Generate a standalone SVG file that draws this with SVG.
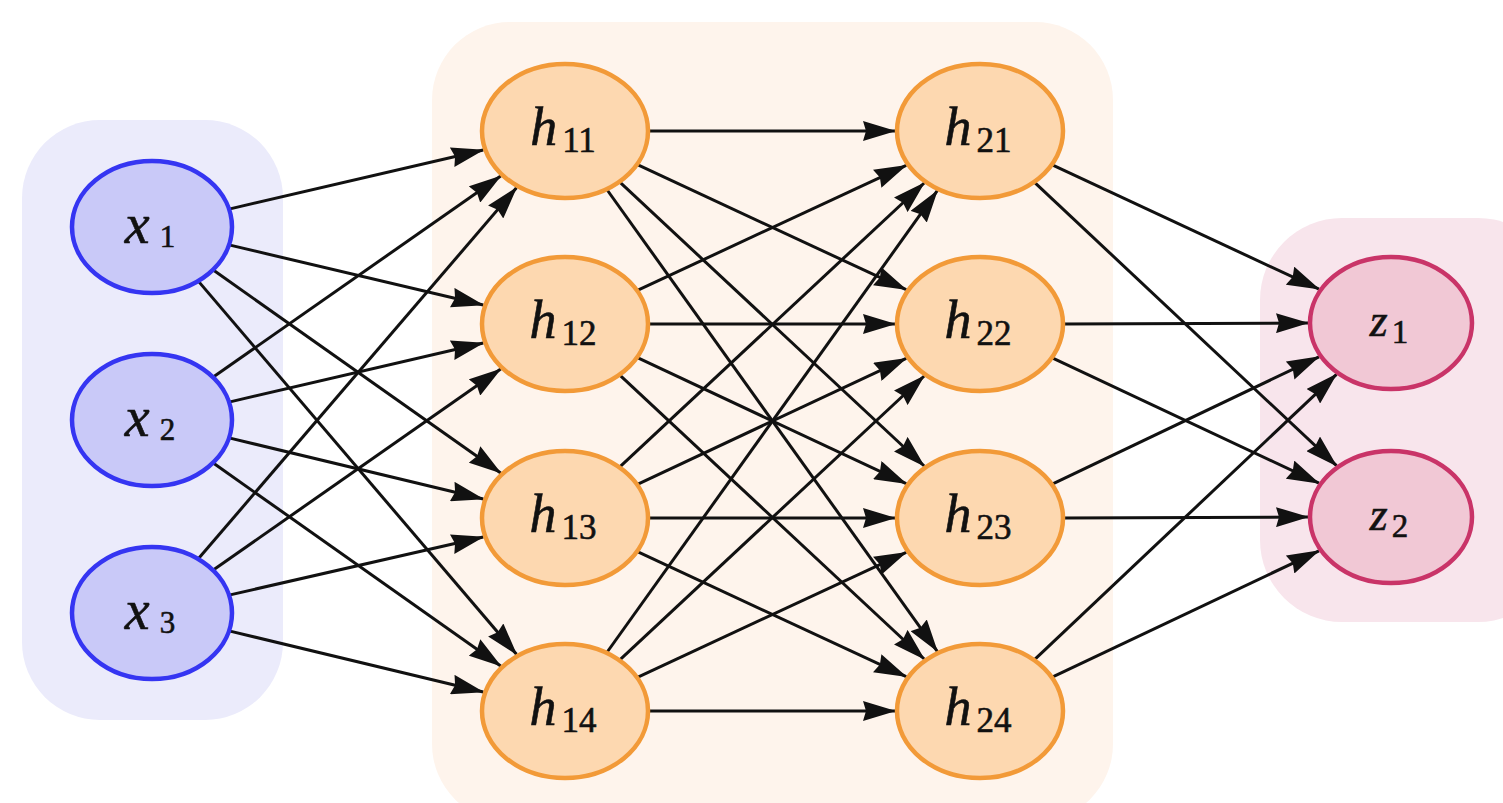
<svg xmlns="http://www.w3.org/2000/svg" width="1503" height="803" viewBox="0 0 1503 803">
<style>
.bg{stroke:none}
.xn{fill:#c9c9f8;stroke:#3535f2;stroke-width:4.5}
.hn{fill:#fdd8b0;stroke:#f29a38;stroke-width:4.5}
.zn{fill:#f1c8d5;stroke:#c93468;stroke-width:4.5}
.edge{stroke:#111;stroke-width:3;fill:none;marker-end:url(#arr)}
.lbl{fill:#111;text-anchor:middle;stroke:#111;stroke-width:0.6}
.v{font-style:italic}
</style>
<defs>
<marker id="arr" markerUnits="userSpaceOnUse" markerWidth="33" markerHeight="20" refX="32" refY="10" orient="auto">
<path d="M0,0 L33,10 L0,20 L3,10 z" fill="#111"/>
</marker>
</defs>
<g id="backgrounds">
<rect class="bg" x="22" y="120" width="261" height="600" rx="78" fill="#ebebfb"/>
<rect class="bg" x="432" y="22" width="681" height="800" rx="78" fill="#fef4ec"/>
<rect class="bg" x="1260" y="218" width="300" height="404" rx="82" fill="#f8e5ec"/>
</g>
<g id="connectors">
<line class="edge" x1="229.0" y1="209.1" x2="483.3" y2="150.0"/>
<line class="edge" x1="229.0" y1="244.9" x2="483.3" y2="305.0"/>
<line class="edge" x1="212.9" y1="269.8" x2="500.7" y2="472.9"/>
<line class="edge" x1="198.1" y1="280.9" x2="516.5" y2="654.3"/>
<line class="edge" x1="212.9" y1="377.2" x2="500.7" y2="176.1"/>
<line class="edge" x1="229.0" y1="402.1" x2="483.3" y2="343.0"/>
<line class="edge" x1="229.0" y1="437.9" x2="483.3" y2="499.0"/>
<line class="edge" x1="212.9" y1="462.8" x2="500.7" y2="665.9"/>
<line class="edge" x1="198.1" y1="559.1" x2="516.5" y2="187.7"/>
<line class="edge" x1="212.9" y1="570.2" x2="500.7" y2="369.1"/>
<line class="edge" x1="229.0" y1="595.1" x2="483.3" y2="537.0"/>
<line class="edge" x1="229.0" y1="630.9" x2="483.3" y2="692.0"/>
<line class="edge" x1="648" y1="131" x2="895" y2="131"/>
<line class="edge" x1="636.9" y1="164.4" x2="906.2" y2="289.7"/>
<line class="edge" x1="619.3" y1="181.7" x2="924.2" y2="466.0"/>
<line class="edge" x1="606.5" y1="189.0" x2="937.3" y2="651.3"/>
<line class="edge" x1="636.9" y1="290.6" x2="906.2" y2="165.3"/>
<line class="edge" x1="648" y1="324" x2="895" y2="324"/>
<line class="edge" x1="636.9" y1="357.4" x2="906.2" y2="483.7"/>
<line class="edge" x1="619.3" y1="374.7" x2="924.2" y2="659.0"/>
<line class="edge" x1="619.3" y1="467.3" x2="924.2" y2="183.0"/>
<line class="edge" x1="636.9" y1="484.6" x2="906.2" y2="358.3"/>
<line class="edge" x1="648" y1="518" x2="895" y2="518"/>
<line class="edge" x1="636.9" y1="551.4" x2="906.2" y2="676.7"/>
<line class="edge" x1="606.5" y1="653.0" x2="937.3" y2="190.7"/>
<line class="edge" x1="619.3" y1="660.3" x2="924.2" y2="376.0"/>
<line class="edge" x1="636.9" y1="677.6" x2="906.2" y2="552.3"/>
<line class="edge" x1="648" y1="711" x2="895" y2="711"/>
<line class="edge" x1="1051.7" y1="164.7" x2="1319.0" y2="289.2"/>
<line class="edge" x1="1034.0" y1="181.9" x2="1336.5" y2="465.7"/>
<line class="edge" x1="1063" y1="324" x2="1308" y2="323"/>
<line class="edge" x1="1051.7" y1="357.7" x2="1319.0" y2="483.2"/>
<line class="edge" x1="1051.7" y1="484.3" x2="1319.0" y2="356.8"/>
<line class="edge" x1="1063" y1="518" x2="1308" y2="517"/>
<line class="edge" x1="1034.0" y1="660.1" x2="1336.5" y2="374.3"/>
<line class="edge" x1="1051.7" y1="677.3" x2="1319.0" y2="550.8"/>
</g>
<g id="x1"><ellipse class="xn" cx="152" cy="227" rx="80" ry="66"/><text class="lbl" font-family="'Liberation Serif', 'DejaVu Serif', serif" x="150" y="243" font-size="56"><tspan class="v">x</tspan><tspan font-size="31" dx="10" dy="4">1</tspan></text></g>
<g id="x2"><ellipse class="xn" cx="152" cy="420" rx="80" ry="66"/><text class="lbl" font-family="'Liberation Serif', 'DejaVu Serif', serif" x="150" y="436" font-size="56"><tspan class="v">x</tspan><tspan font-size="31" dx="10" dy="4">2</tspan></text></g>
<g id="x3"><ellipse class="xn" cx="152" cy="613" rx="80" ry="66"/><text class="lbl" font-family="'Liberation Serif', 'DejaVu Serif', serif" x="150" y="629" font-size="56"><tspan class="v">x</tspan><tspan font-size="31" dx="10" dy="4">3</tspan></text></g>
<g id="h11"><ellipse class="hn" cx="565" cy="131" rx="83" ry="67"/><text class="lbl" font-family="'Liberation Serif', 'DejaVu Serif', serif" x="563" y="145" font-size="54"><tspan class="v">h</tspan><tspan font-size="35" dx="5" dy="7">11</tspan></text></g>
<g id="h12"><ellipse class="hn" cx="565" cy="324" rx="83" ry="67"/><text class="lbl" font-family="'Liberation Serif', 'DejaVu Serif', serif" x="563" y="338" font-size="54"><tspan class="v">h</tspan><tspan font-size="35" dx="5" dy="7">12</tspan></text></g>
<g id="h13"><ellipse class="hn" cx="565" cy="518" rx="83" ry="67"/><text class="lbl" font-family="'Liberation Serif', 'DejaVu Serif', serif" x="563" y="532" font-size="54"><tspan class="v">h</tspan><tspan font-size="35" dx="5" dy="7">13</tspan></text></g>
<g id="h14"><ellipse class="hn" cx="565" cy="711" rx="83" ry="67"/><text class="lbl" font-family="'Liberation Serif', 'DejaVu Serif', serif" x="563" y="725" font-size="54"><tspan class="v">h</tspan><tspan font-size="35" dx="5" dy="7">14</tspan></text></g>
<g id="h21"><ellipse class="hn" cx="980" cy="131" rx="83" ry="67"/><text class="lbl" font-family="'Liberation Serif', 'DejaVu Serif', serif" x="978" y="145" font-size="54"><tspan class="v">h</tspan><tspan font-size="35" dx="5" dy="7">21</tspan></text></g>
<g id="h22"><ellipse class="hn" cx="980" cy="324" rx="83" ry="67"/><text class="lbl" font-family="'Liberation Serif', 'DejaVu Serif', serif" x="978" y="338" font-size="54"><tspan class="v">h</tspan><tspan font-size="35" dx="5" dy="7">22</tspan></text></g>
<g id="h23"><ellipse class="hn" cx="980" cy="518" rx="83" ry="67"/><text class="lbl" font-family="'Liberation Serif', 'DejaVu Serif', serif" x="978" y="532" font-size="54"><tspan class="v">h</tspan><tspan font-size="35" dx="5" dy="7">23</tspan></text></g>
<g id="h24"><ellipse class="hn" cx="980" cy="711" rx="83" ry="67"/><text class="lbl" font-family="'Liberation Serif', 'DejaVu Serif', serif" x="978" y="725" font-size="54"><tspan class="v">h</tspan><tspan font-size="35" dx="5" dy="7">24</tspan></text></g>
<g id="z1"><ellipse class="zn" cx="1391" cy="323" rx="81" ry="66"/><text class="lbl" font-family="'Liberation Serif', 'DejaVu Serif', serif" x="1389" y="336" font-size="46"><tspan class="v">z</tspan><tspan font-size="33" dx="4" dy="7">1</tspan></text></g>
<g id="z2"><ellipse class="zn" cx="1391" cy="517" rx="81" ry="66"/><text class="lbl" font-family="'Liberation Serif', 'DejaVu Serif', serif" x="1389" y="530" font-size="46"><tspan class="v">z</tspan><tspan font-size="33" dx="4" dy="7">2</tspan></text></g>
</svg>
